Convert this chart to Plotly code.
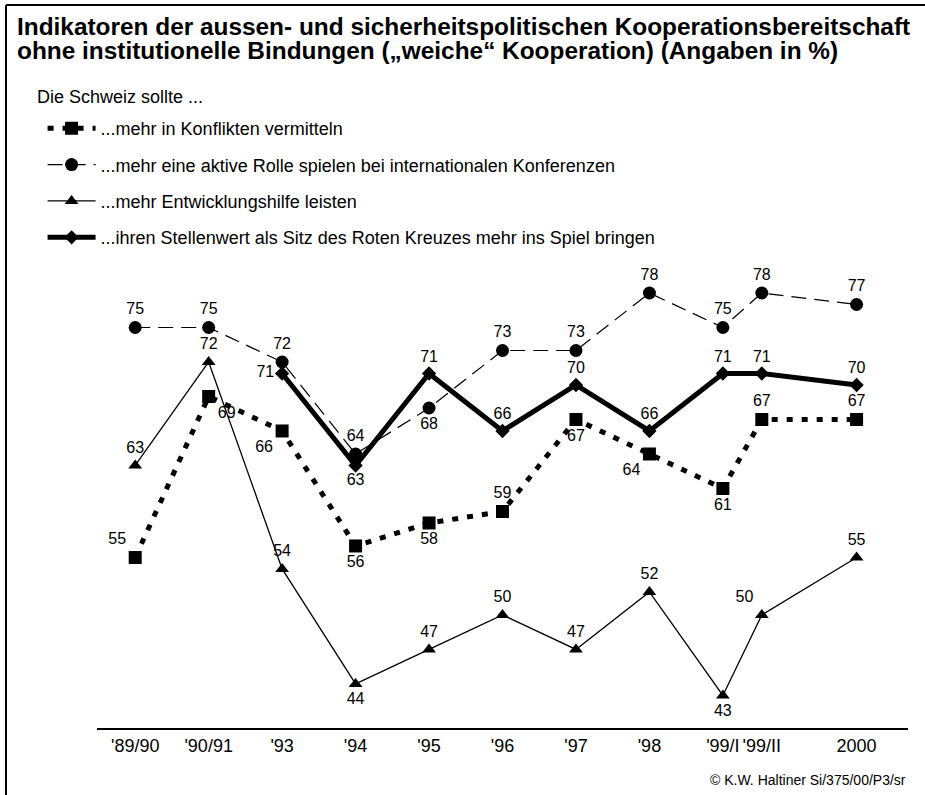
import plotly.graph_objects as go

# ---- data ----
tick_labels = ["'89/90", "'90/91", "'93", "'94", "'95", "'96", "'97", "'98", "'99/I", "'99/II", "2000"]
x_index = [0, 1, 2, 3, 4, 5, 6, 7, 8, 8.53, 9.82]

konflikte = [55, 69, 66, 56, 58, 59, 67, 64, 61, 67, 67]
aktive_rolle = [75, 75, 72, 64, 68, 73, 73, 78, 75, 78, 77]
entwicklung = [63, 72, 54, 44, 47, 50, 47, 52, 43, 50, 55]
rotes_kreuz = [None, None, 71, 63, 71, 66, 70, 66, 71, 71, 70]

names = [
    "...mehr in Konflikten vermitteln",
    "...mehr eine aktive Rolle spielen bei internationalen Konferenzen",
    "...mehr Entwicklungshilfe leisten",
    "...ihren Stellenwert als Sitz des Roten Kreuzes mehr ins Spiel bringen",
]
title_lines = [
    "Indikatoren der aussen- und sicherheitspolitischen Kooperationsbereitschaft",
    "ohne institutionelle Bindungen („weiche“ Kooperation) (Angaben in %)",
]
legend_title = "Die Schweiz sollte ..."
source = "© K.W. Haltiner Si/375/00/P3/sr"

FONT = "Liberation Sans, Arial, sans-serif"
LBL = dict(size=16, color="black", family=FONT)

def labels(vals):
    return [("" if v is None else str(v)) for v in vals]

pos_konf = ["top left", "bottom right", "bottom left", "bottom center", "bottom center",
            "top center", "bottom center", "bottom left", "bottom center", "top center", "top center"]
pos_akt = ["top center"] * 11
pos_akt[4] = "bottom center"
pos_ent = ["top center"] * 11
pos_ent[3] = "bottom center"
pos_ent[8] = "bottom center"
pos_ent[9] = "top left"
pos_rk = ["top center"] * 11
pos_rk[2] = "middle left"
pos_rk[3] = "bottom center"

fig = go.Figure()

fig.add_trace(go.Scatter(
    x=x_index, y=konflikte, name=names[0], mode="lines+markers+text",
    line=dict(color="black", width=5, dash="6px,9px"),
    marker=dict(symbol="square", size=13, color="black"),
    text=labels(konflikte), textposition=pos_konf, textfont=LBL,
    legendgroup="a", cliponaxis=False,
))
fig.add_trace(go.Scatter(
    x=x_index, y=aktive_rolle, name=names[1], mode="lines+markers+text",
    line=dict(color="black", width=1.2, dash="15px,8px"),
    marker=dict(symbol="circle", size=13, color="black"),
    text=labels(aktive_rolle), textposition=pos_akt, textfont=LBL,
    legendgroup="b", cliponaxis=False,
))
fig.add_trace(go.Scatter(
    x=x_index, y=entwicklung, name=names[2], mode="lines+markers+text",
    line=dict(color="black", width=1.3),
    marker=dict(symbol="triangle-up", size=12, color="black"),
    text=labels(entwicklung), textposition=pos_ent, textfont=LBL,
    legendgroup="c", cliponaxis=False,
))
fig.add_trace(go.Scatter(
    x=x_index, y=rotes_kreuz, name=names[3], mode="lines+markers+text",
    line=dict(color="black", width=5),
    marker=dict(symbol="diamond", size=11, color="black"),
    text=labels(rotes_kreuz), textposition=pos_rk, textfont=LBL,
    legendgroup="d", cliponaxis=False, connectgaps=False,
))

fig.update_layout(
    width=925, height=795,
    margin=dict(l=97, r=17, t=270, b=67, autoexpand=False),
    paper_bgcolor="white", plot_bgcolor="white",
    font=dict(family=FONT, color="black", size=16),
    showlegend=True,
    legend=dict(
        x=-0.0671, xanchor="left", y=1.3494, yanchor="top",
        bgcolor="rgba(0,0,0,0)",
        traceorder="grouped", tracegroupgap=10,
        font=dict(size=18, family=FONT, color="black"),
        itemwidth=48,
    ),
    xaxis=dict(
        range=[-0.52, 10.52], tickvals=x_index, ticktext=tick_labels,
        showgrid=False, zeroline=False, showline=True, linecolor="black", linewidth=2,
        ticks="", tickfont=dict(size=18, family=FONT, color="black"),
    ),
    yaxis=dict(
        range=[40.17, 80], showgrid=False, zeroline=False, showline=False,
        showticklabels=False, ticks="",
    ),
    annotations=[
        dict(text="<b>" + title_lines[0] + "</b>", xref="paper", yref="paper",
             x=-0.1011, xanchor="left", y=1.5306, yanchor="middle", showarrow=False,
             font=dict(size=24.4, family=FONT, color="black")),
        dict(text="<b>" + title_lines[1] + "</b>", xref="paper", yref="paper",
             x=-0.1011, xanchor="left", y=1.4782, yanchor="middle", showarrow=False,
             font=dict(size=24.4, family=FONT, color="black")),
        dict(text=legend_title, xref="paper", yref="paper",
             x=-0.0765, xanchor="left", y=1.3777, yanchor="middle", showarrow=False,
             font=dict(size=18, family=FONT, color="black")),
        dict(text=source, xref="paper", yref="paper",
             x=1, xanchor="right", y=-0.1135, yanchor="middle", showarrow=False,
             font=dict(size=14, family=FONT, color="black")),
    ],
    shapes=[
        dict(type="line", xref="paper", yref="paper", x0=-0.1122, x1=1.03,
             y0=1.5786, y1=1.5786, line=dict(color="black", width=2)),
        dict(type="line", xref="paper", yref="paper", x0=-0.1122, x1=-0.1122,
             y0=1.5786, y1=-0.16, line=dict(color="black", width=2)),
    ],
)

fig.write_html("out.html", config={"displayModeBar": False},
               post_script="document.body.style.margin='0';")
